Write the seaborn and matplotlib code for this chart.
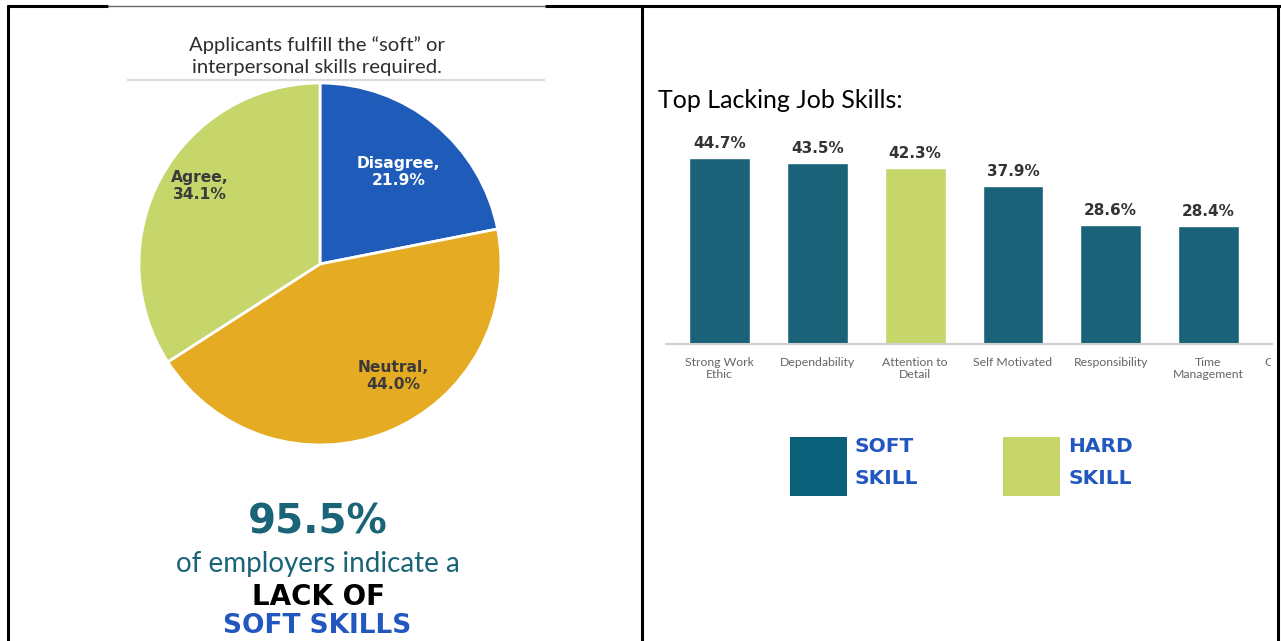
import matplotlib
matplotlib.use("Agg")
import matplotlib.pyplot as plt
from matplotlib.lines import Line2D
from matplotlib.patches import Rectangle
from matplotlib.transforms import Bbox, TransformedBbox, ScaledTranslation
import numpy as np
import pandas as pd
import seaborn as sns

# ---- data -------------------------------------------------------------
pie_labels = ["Disagree", "Neutral", "Agree"]
pie_values = [21.9, 44.0, 34.1]
pie_colors = ["#1f5bb8", "#e4ab23", "#c6d66a"]
pie_text_colors = ["white", "#3a3a3a", "#3a3a3a"]

skills = ["Strong Work\nEthic", "Dependability", "Attention to\nDetail",
          "Self Motivated", "Responsibility", "Time\nManagement"]
skill_pct = [44.7, 43.5, 42.3, 37.9, 28.6, 28.4]
skill_type = ["Soft", "Soft", "Hard", "Soft", "Soft", "Soft"]
next_skill = "Communication"

legend_labels = ["SOFT\nSKILL", "HARD\nSKILL"]
headline_pct = "95.5%"

SOFT_COLOR = "#1a6278"
SOFT_KEY = "#0a6078"
HARD_COLOR = "#c6d66a"
BLUE_TEXT = "#2257c0"
TEAL_TEXT = "#1a6478"
HEAVY = ["DejaVu Sans"]

W, H = 1281, 641

sns.set_theme(style="white")
plt.rcParams["font.family"] = ["Lato", "DejaVu Sans"]

fig = plt.figure(figsize=(W / 100, H / 100), dpi=100)
fig.patch.set_facecolor("white")


def fx(x):
    return x / W


def fy(y):
    return 1 - y / H


def rect(x0, y0, x1, y1):
    """Figure-fraction rectangle from pixel edges (y measured from the top)."""
    return [fx(x0), fy(y1), fx(x1) - fx(x0), fy(y0) - fy(y1)]


def hline(x0, x1, y, color, lw):
    fig.add_artist(Line2D([fx(x0), fx(x1)], [fy(y), fy(y)], color=color,
                          lw=lw, transform=fig.transFigure, solid_capstyle="butt"))


def vline(x, y0, y1, color, lw):
    fig.add_artist(Line2D([fx(x), fx(x)], [fy(y0), fy(y1)], color=color,
                          lw=lw, transform=fig.transFigure, solid_capstyle="butt"))


# ---- table borders ----------------------------------------------------
hline(7, 108, 5.5, "black", 2.2)
hline(108, 545, 5.5, "#666666", 1.0)
hline(545, 1281, 5.5, "black", 2.2)
vline(8, 4.5, 641, "black", 2.2)
vline(642, 4.5, 641, "black", 2.2)
vline(1278, 4.5, 641, "black", 2.2)

# ---- left cell: pie infographic --------------------------------------
fig.text(fx(317), fy(45), "Applicants fulfill the \u201csoft\u201d or",
         ha="center", va="center", fontsize=14.6, color="#2e2e2e")
fig.text(fx(317), fy(67), "interpersonal skills required.",
         ha="center", va="center", fontsize=14.6, color="#2e2e2e")
hline(127, 545, 79.5, "#dcdcdc", 1.6)

ax_pie = fig.add_axes(rect(139, 83, 501, 445))
wedges, _ = ax_pie.pie(pie_values, colors=pie_colors, startangle=90,
                       counterclock=False,
                       wedgeprops=dict(edgecolor="white", linewidth=2))
ax_pie.set_xlim(-1, 1)
ax_pie.set_ylim(-1, 1)

# label placement: (radius fraction, angle shift in degrees) per wedge
label_place = [(0.67, -1.0), (0.74, 11.0), (0.79, -4.5)]
for w, name, val, tc, (rf, dth) in zip(wedges, pie_labels, pie_values,
                                       pie_text_colors, label_place):
    mid = np.deg2rad((w.theta1 + w.theta2) / 2 + dth)
    ax_pie.text(rf * np.cos(mid), rf * np.sin(mid), f"{name},\n{val:.1f}%",
                ha="center", va="center", fontsize=11.2, fontweight="bold",
                family=HEAVY, color=tc, linespacing=1.15)

# headline block, placed on text baselines
fig.text(fx(318), fy(533), headline_pct, ha="center", va="baseline",
         fontsize=29, fontweight="bold", family=HEAVY, color=TEAL_TEXT)
fig.text(fx(318), fy(572), "of employers indicate a", ha="center",
         va="baseline", fontsize=20, color=TEAL_TEXT)
fig.text(fx(318), fy(605), "LACK OF", ha="center", va="baseline",
         fontsize=20, fontweight="bold", family=HEAVY, color="black")
fig.text(fx(317), fy(633), "SOFT SKILLS", ha="center", va="baseline",
         fontsize=19, fontweight="bold", family=HEAVY, color=BLUE_TEXT)

# ---- right cell: bar chart -------------------------------------------
fig.text(fx(658), fy(100), "Top Lacking Job Skills:", ha="left", va="center",
         fontsize=18, color="black")

df = pd.DataFrame({"skill": skills, "pct": skill_pct, "type": skill_type})
ax_bar = fig.add_axes(rect(666, 130, 1272, 344))
sns.barplot(data=df, x="skill", y="pct", hue="type", order=skills,
            hue_order=["Soft", "Hard"],
            palette={"Soft": SOFT_COLOR, "Hard": HARD_COLOR},
            dodge=False, width=0.62, saturation=1, legend=False, ax=ax_bar)
for cont in ax_bar.containers:
    ax_bar.bar_label(cont, fmt="{:.1f}%", padding=5, fontsize=11,
                     fontweight="bold", family=HEAVY, color="#333333")

ax_bar.set_xlabel("")
ax_bar.set_ylabel("")
ax_bar.set_yticks([])
ax_bar.set_xlim(-0.55, 5.65)
ax_bar.set_ylim(0, 214 / 4.16)
TICK_PAD = 9
ax_bar.tick_params(axis="x", length=0, pad=TICK_PAD, labelsize=8.8,
                   labelcolor="#666666")
for lbl in ax_bar.get_xticklabels():
    lbl.set_linespacing(1.2)
for side in ["top", "right", "left"]:
    ax_bar.spines[side].set_visible(False)
ax_bar.spines["bottom"].set_color("#d0d0d0")
ax_bar.spines["bottom"].set_linewidth(1.5)

# the next category runs past the right edge of the panel
below = ax_bar.get_xaxis_transform() + ScaledTranslation(0, -TICK_PAD / 72,
                                                         fig.dpi_scale_trans)
cut = ax_bar.text(len(skills), 0, next_skill, transform=below, ha="center",
                  va="top", fontsize=8.8, color="#666666")
cut.set_clip_on(True)
cut.set_clip_box(TransformedBbox(Bbox.from_extents(0, 0, fx(1271), 1),
                                 fig.transFigure))

# key: soft vs hard skill
for x0, color, label in zip([790, 1003], [SOFT_KEY, HARD_COLOR], legend_labels):
    fig.add_artist(Rectangle((fx(x0), fy(496)), fx(57), fy(437) - fy(496),
                             transform=fig.transFigure, facecolor=color,
                             edgecolor="none"))
    top, bottom = label.split("\n")
    fig.text(fx(x0 + 65), fy(447), top, ha="left", va="center", fontsize=14.5,
             fontweight="bold", family=HEAVY, color=BLUE_TEXT)
    fig.text(fx(x0 + 65), fy(479), bottom, ha="left", va="center", fontsize=14.5,
             fontweight="bold", family=HEAVY, color=BLUE_TEXT)

fig.savefig("out.png", dpi=100, facecolor="white")
